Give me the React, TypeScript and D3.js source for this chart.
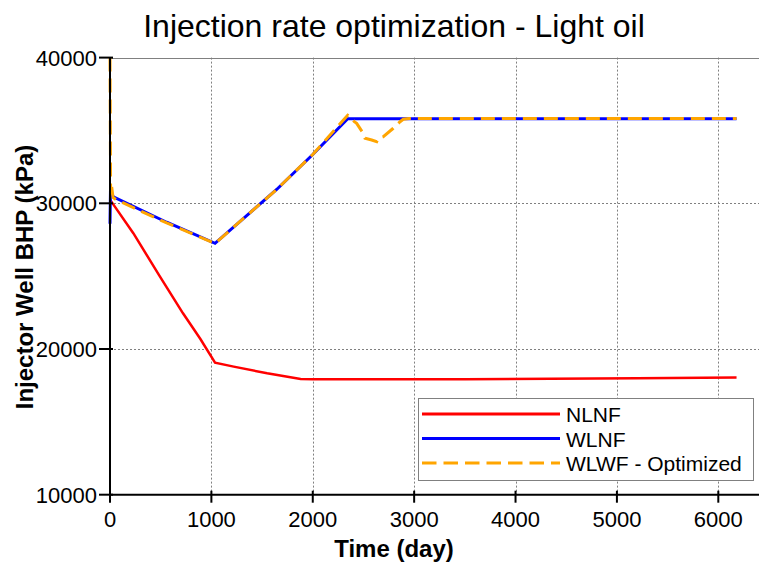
import React, { useEffect, useRef } from 'react';
import * as d3 from 'd3';

// time (day), BHP (kPa)
const nlnf: [number, number][] = [
  [0, 30250], [230, 27950], [490, 25000], [720, 22450], [890, 20700],
  [1036, 19060], [1220, 18790], [1550, 18330], [1880, 17940], [2000, 17920],
  [3500, 17930], [5200, 18000], [6180, 18050],
];
const wlnf: [number, number][] = [
  [0, 28600], [5, 31000], [15, 30700], [33, 30450], [559, 28700],
  [1036, 27250], [1644, 30950], [2000, 33350], [2345, 35800], [6180, 35800],
];
const wlwf: [number, number][] = [
  [0, 40000], [6, 30600], [15, 31200], [30, 30400], [60, 30250],
  [559, 28650], [1036, 27250], [1644, 30950], [2000, 33350], [2345, 36050],
  [2367, 35940], [2410, 35600], [2433, 35490], [2498, 34800], [2515, 34460],
  [2581, 34345], [2631, 34230], [2647, 34460], [2696, 34570], [2794, 35150],
  [2861, 35600], [2893, 35770], [2950, 35820], [6180, 35820],
];

const xTicks = [0, 1000, 2000, 3000, 4000, 5000, 6000];
const yTicks = [10000, 20000, 30000, 40000];
const seriesNames = ['NLNF', 'WLNF', 'WLWF - Optimized'];

const FONT = "'Liberation Sans', Arial, sans-serif";

const App = () => {
  const ref = useRef<SVGSVGElement | null>(null);

  useEffect(() => {
    const width = 759;
    const height = 562;
    const svg = d3.select(ref.current);
    svg.selectAll('*').remove();

    const left = 110;
    const top = 57.6;
    const bottom = 494.7;

    const x = d3.scaleLinear().domain([0, 6000]).range([left, 718.3]);
    const y = d3.scaleLinear().domain([10000, 40000]).range([bottom, top]);

    svg.append('rect').attr('width', width).attr('height', height).attr('fill', '#fff');

    // grid
    const grid = svg.append('g').attr('stroke', '#808080').attr('stroke-width', 1).attr('stroke-dasharray', '2,2');
    grid.selectAll('line.v')
      .data(xTicks.slice(1))
      .join('line')
      .attr('x1', (d) => Math.round(x(d)) + 0.5)
      .attr('x2', (d) => Math.round(x(d)) + 0.5)
      .attr('y1', top)
      .attr('y2', bottom);
    grid.selectAll('line.h')
      .data([20000, 30000])
      .join('line')
      .attr('x1', left)
      .attr('x2', width)
      .attr('y1', (d) => Math.round(y(d)) + 0.5)
      .attr('y2', (d) => Math.round(y(d)) + 0.5);

    // top frame line
    svg.append('line')
      .attr('x1', left).attr('x2', width)
      .attr('y1', Math.round(top) + 0.5).attr('y2', Math.round(top) + 0.5)
      .attr('stroke', '#808080');

    // lines
    const line = d3.line<[number, number]>()
      .x((d) => x(d[0]))
      .y((d) => y(d[1]));

    svg.append('path').datum(nlnf)
      .attr('fill', 'none').attr('stroke', '#ff0000').attr('stroke-width', 2.5)
      .attr('d', line);
    svg.append('path').datum(wlnf)
      .attr('fill', 'none').attr('stroke', '#0000ff').attr('stroke-width', 3)
      .attr('d', line);
    svg.append('path').datum(wlwf)
      .attr('fill', 'none').attr('stroke', '#ffa500').attr('stroke-width', 3)
      .attr('stroke-dasharray', '14,7')
      .attr('d', line);

    // axes
    const axes = svg.append('g').attr('stroke', '#000').attr('stroke-width', 2);
    axes.append('line').attr('x1', left).attr('x2', width).attr('y1', bottom).attr('y2', bottom);
    axes.append('line').attr('x1', left).attr('x2', left).attr('y1', top).attr('y2', bottom);
    axes.selectAll('line.xt')
      .data(xTicks)
      .join('line')
      .attr('x1', (d) => x(d)).attr('x2', (d) => x(d))
      .attr('y1', bottom - 4).attr('y2', bottom + 8);
    axes.selectAll('line.yt')
      .data(yTicks)
      .join('line')
      .attr('x1', left - 11).attr('x2', left + 3)
      .attr('y1', (d) => y(d)).attr('y2', (d) => y(d));

    svg.append('g')
      .selectAll('text')
      .data(xTicks)
      .join('text')
      .attr('x', (d) => x(d))
      .attr('y', 527)
      .attr('text-anchor', 'middle')
      .attr('font-family', FONT)
      .attr('font-size', 22)
      .text((d) => String(d));

    svg.append('g')
      .selectAll('text')
      .data(yTicks)
      .join('text')
      .attr('x', 97)
      .attr('y', (d) => y(d) + 8)
      .attr('text-anchor', 'end')
      .attr('font-family', FONT)
      .attr('font-size', 22)
      .text((d) => String(d));

    // titles
    svg.append('text')
      .attr('x', 394).attr('y', 37)
      .attr('text-anchor', 'middle')
      .attr('font-family', FONT).attr('font-size', 32)
      .text('Injection rate optimization - Light oil');
    svg.append('text')
      .attr('x', 394).attr('y', 557)
      .attr('text-anchor', 'middle')
      .attr('font-family', FONT).attr('font-size', 24).attr('font-weight', 'bold')
      .text('Time (day)');
    svg.append('text')
      .attr('transform', 'translate(33,277) rotate(-90)')
      .attr('text-anchor', 'middle')
      .attr('font-family', FONT).attr('font-size', 24).attr('font-weight', 'bold')
      .text('Injector Well BHP (kPa)');

    // legend
    const lg = svg.append('g');
    lg.append('rect')
      .attr('x', 418.5).attr('y', 398.5).attr('width', 335).attr('height', 82)
      .attr('fill', '#fff').attr('stroke', '#808080');
    const colors = ['#ff0000', '#0000ff', '#ffa500'];
    seriesNames.forEach((name, i) => {
      const ly = 414 + i * 24.5;
      lg.append('line')
        .attr('x1', 422).attr('x2', 560).attr('y1', ly).attr('y2', ly)
        .attr('stroke', colors[i]).attr('stroke-width', 3)
        .attr('stroke-dasharray', i === 2 ? '14.5,7' : null);
      lg.append('text')
        .attr('x', 566).attr('y', ly + 8)
        .attr('font-family', FONT).attr('font-size', 21)
        .text(name);
    });
  }, []);

  return (
    <svg
      ref={ref}
      width={759}
      height={562}
      style={{ position: 'absolute', left: 0, top: 0, display: 'block' }}
    />
  );
};

export default App;
